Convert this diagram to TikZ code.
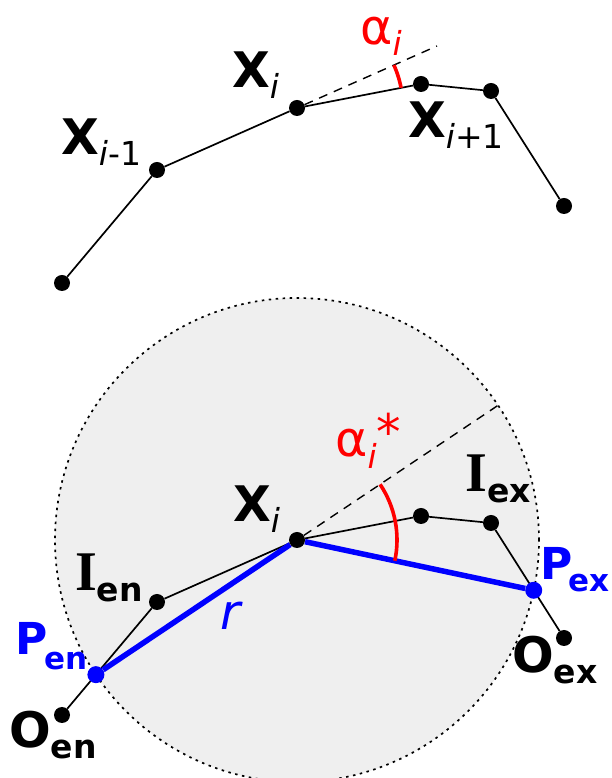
\documentclass[tikz,border=0pt]{standalone}
\usepackage{fontspec}
\setmainfont{DejaVu Sans}
\newfontfamily\serifbf{Liberation Serif}
\usetikzlibrary{calc, backgrounds}
\definecolor{pblue}{HTML}{0000FF}
\definecolor{pred}{HTML}{FF0000}
\definecolor{ballsoft}{HTML}{EFEFEF}
\newcommand{\bigfont}{\fontsize{49}{49}\selectfont}
\newcommand{\pfont}{\fontsize{44}{44}\selectfont}
\newcommand{\lowsub}[2][11pt]{\raisebox{-#1}{\fontsize{33}{33}\selectfont #2}}
\newcommand{\psub}[2][12pt]{\raisebox{-#1}{\fontsize{31}{31}\selectfont #2}}
\tikzset{
  dot/.style={circle, fill=black, inner sep=0pt, minimum size=16pt},
  bdot/.style={dot, fill=pblue, minimum size=17pt},
  seg/.style={line width=1.7pt},
  ext/.style={line width=1.4pt, dash pattern=on 9pt off 7pt},
  ball/.style={line width=1.7pt, dash pattern=on 2.5pt off 4.5pt, fill=ballsoft},
  reach/.style={line width=5.5pt, draw=pblue},
  anglearc/.style={line width=3.6pt, draw=pred},
  lab/.style={anchor=base west, inner sep=0pt, font=\bigfont\bfseries}
}
\begin{document}
\begin{tikzpicture}[x=1pt,y=1pt]
  \useasboundingbox (0,0) rectangle (612,778);
  % upper chain
  \node[dot] (a1) at (62,495) {};
  \node[dot] (a2) at (157,608) {};
  \node[dot] (a3) at (297,670) {};
  \node[dot] (a4) at (421,694) {};
  \node[dot] (a5) at (491,687) {};
  \node[dot] (a6) at (564,572) {};
  \draw[seg] (a1) -- (a2) -- (a3) -- (a4) -- (a5) -- (a6);
  \coordinate (a3ext) at ($(a3)!-1!(a2)$);
  \draw[ext] (a3) -- (a3ext);
  \draw[anglearc] ($(a3)+(10.95:106)$) arc[start angle=10.95, end angle=23.9, radius=106];
  \node[lab] (lXa) at (61,623) {X\lowsub{\mdseries\textit{i}-1}};
  \node[lab] (lXb) at (232,690) {X\lowsub{\mdseries\itshape i}};
  \node[lab] (lXc) at (408,640) {X\lowsub{\mdseries\textit{i}+1}};
  \node[lab, text=pred, font=\bigfont] (lal) at (360,733) {α\lowsub{\itshape i}};
  % lower chain inside the ball
  \node[dot] (Oen) at (62,63) {};
  \node[dot] (Ien) at (157,176) {};
  \node[dot] (Xc) at (297,238) {};
  \node[dot] (b4) at (421,262) {};
  \node[dot] (Iex) at (491,255) {};
  \node[dot] (Oex) at (564,140) {};
  \begin{scope}[on background layer]
    \draw[ball] (Xc) circle[radius=242];
  \end{scope}
  \draw[seg] (Oen) -- (Ien) -- (Xc) -- (b4) -- (Iex) -- (Oex);
  \node[bdot] (Pen) at ($(Oen)!0.357!(Ien)$) {};
  \node[bdot] (Pex) at ($(Iex)!0.585!(Oex)$) {};
  \coordinate (Xcext) at ($(Xc)!-1!(Pen)$);
  \draw[ext] (Xc) -- (Xcext);
  \draw[reach] (Pen) -- (Xc) -- (Pex);
  \draw[anglearc] ($(Xc)+(-12:100)$) arc[start angle=-12, end angle=33.8, radius=100];
  \node[lab] (lXd) at (233,256) {X\lowsub{\mdseries\itshape i}};
  \node[lab, text=pred, font=\bigfont] (las) at (335,321) {α\rlap{\lowsub[12pt]{\itshape i}}\kern9pt\raisebox{7pt}{*}};
  \node[lab] (lIen) at (75,187) {{\serifbf\fontsize{56}{56}\selectfont I}\lowsub{en}};
  \node[lab] (lIex) at (465,286) {{\serifbf\fontsize{56}{56}\selectfont I}\lowsub{ex}};
  \node[lab, text=pblue, font=\pfont\bfseries] (lPen) at (15,123) {P\kern-3pt\psub[15pt]{en}};
  \node[lab, text=pblue, font=\pfont\bfseries] (lPex) at (540,198) {P\kern-4pt\psub{ex}};
  \node[lab] (lOen) at (9,30) {O\lowsub{en}};
  \node[lab] (lOex) at (512,105) {O\lowsub{ex}};
  \node[lab, text=pblue, font=\bigfont\itshape] (lr) at (220,148) {r};
\end{tikzpicture}
\end{document}
